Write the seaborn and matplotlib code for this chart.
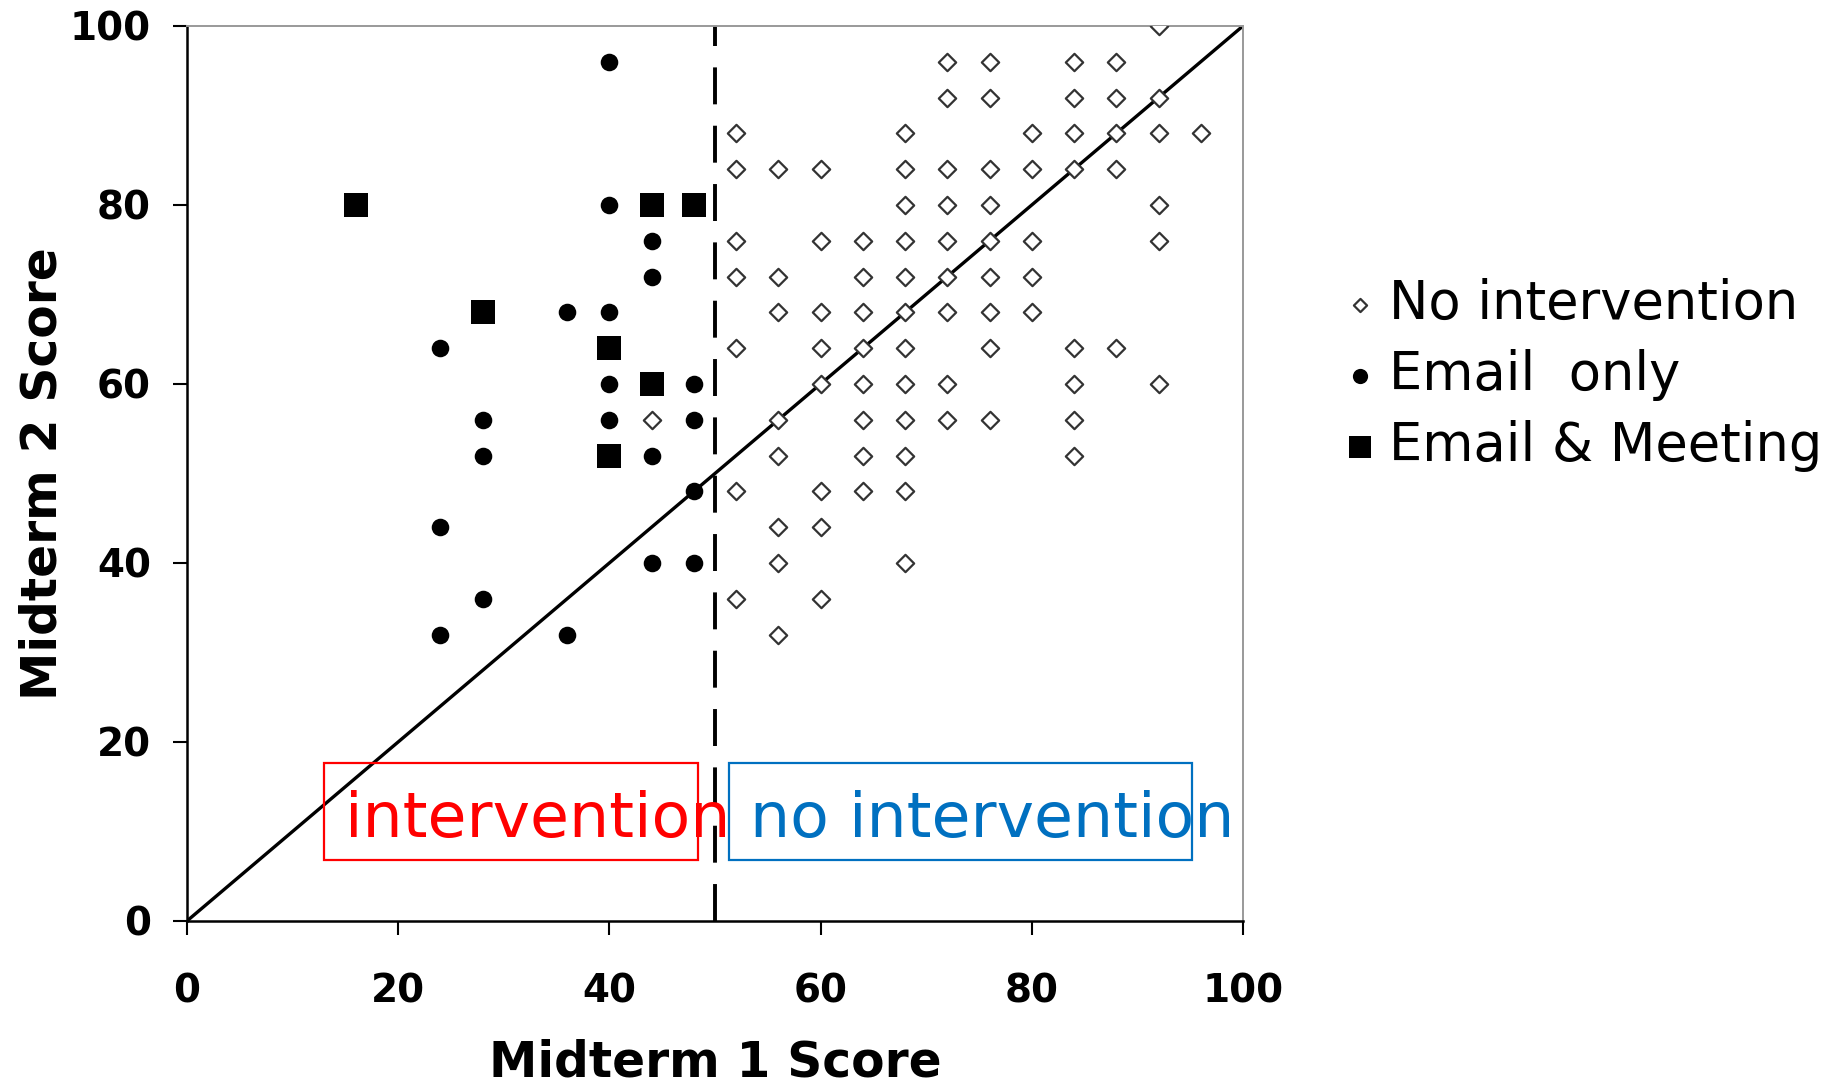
import numpy as np
import pandas as pd
import matplotlib
matplotlib.use("Agg")
import matplotlib.pyplot as plt
from matplotlib.patches import Rectangle
import seaborn as sns

# Midterm scores (Midterm 1 on x, Midterm 2 on y)
no_int_m1 = [92,
             72, 76, 84, 88,
             72, 76, 84, 88, 92,
             52, 68, 80, 84, 88, 92, 96,
             52, 56, 60, 68, 72, 76, 80, 84, 88,
             68, 72, 76, 92,
             52, 60, 64, 68, 72, 76, 80, 92,
             52, 56, 64, 68, 72, 76, 80,
             56, 60, 64, 68, 72, 76, 80,
             52, 60, 64, 68, 76, 84, 88,
             60, 64, 68, 72, 84, 92,
             44, 56, 64, 68, 72, 76, 84,
             56, 64, 68, 84,
             52, 60, 64, 68,
             56, 60,
             56, 68,
             52, 60,
             56]
no_int_m2 = [100,
             96, 96, 96, 96,
             92, 92, 92, 92, 92,
             88, 88, 88, 88, 88, 88, 88,
             84, 84, 84, 84, 84, 84, 84, 84, 84,
             80, 80, 80, 80,
             76, 76, 76, 76, 76, 76, 76, 76,
             72, 72, 72, 72, 72, 72, 72,
             68, 68, 68, 68, 68, 68, 68,
             64, 64, 64, 64, 64, 64, 64,
             60, 60, 60, 60, 60, 60,
             56, 56, 56, 56, 56, 56, 56,
             52, 52, 52, 52,
             48, 48, 48, 48,
             44, 44,
             40, 40,
             36, 36,
             32]

email_m1 = [40, 40, 44, 44, 36, 40, 24, 40, 48, 28, 40, 48, 28, 44,
            48, 24, 44, 48, 28, 24, 36]
email_m2 = [96, 80, 76, 72, 68, 68, 64, 60, 60, 56, 56, 56, 52, 52,
            48, 44, 40, 40, 36, 32, 32]

meeting_m1 = [16, 44, 48, 28, 40, 44, 40]
meeting_m2 = [80, 80, 80, 68, 64, 60, 52]

group_labels = ["No intervention", "Email  only", "Email & Meeting"]
score_range = [0, 100]
cutoff = 50

sns.set_style("ticks")
plt.rcParams["font.family"] = ["DejaVu Sans"]
plt.rcParams["text.color"] = "black"
plt.rcParams["axes.labelcolor"] = "black"
plt.rcParams["xtick.color"] = "black"
plt.rcParams["ytick.color"] = "black"

fig = plt.figure(figsize=(18.35, 10.85), dpi=100)
ax = fig.add_axes([0.1019, 0.1512, 0.5755, 0.8249])

# reference lines: diagonal (no change) and the intervention cutoff
ax.plot(score_range, score_range, color="black", lw=2.4, zorder=1)
ax.axvline(cutoff, color="black", lw=2.8, linestyle=(0, (9.5, 5.5)), zorder=1)

sns.scatterplot(x=no_int_m1, y=no_int_m2, marker="D", s=78, facecolor="white",
                edgecolor="#333333", linewidth=1.6, label=group_labels[0], ax=ax, zorder=3)
sns.scatterplot(x=email_m1, y=email_m2, marker="o", s=160, color="black",
                edgecolor="black", linewidth=0, label=group_labels[1], ax=ax, zorder=3)
sns.scatterplot(x=meeting_m1, y=meeting_m2, marker="s", s=290, color="black",
                edgecolor="black", linewidth=0, label=group_labels[2], ax=ax, zorder=3)

ax.set_xlim(score_range)
ax.set_ylim(score_range)
ax.set_xticks(np.arange(0, 101, 20))
ax.set_yticks(np.arange(0, 101, 20))
ax.tick_params(axis="both", direction="out", length=10, width=1.5, labelsize=28)
ax.tick_params(axis="x", pad=27)
ax.tick_params(axis="y", pad=16)
for lbl in ax.get_xticklabels() + ax.get_yticklabels():
    lbl.set_fontweight("bold")

for side in ["left", "bottom"]:
    ax.spines[side].set_color("black")
    ax.spines[side].set_linewidth(1.8)
for side in ["top", "right"]:
    ax.spines[side].set_visible(True)
    ax.spines[side].set_color("#999999")
    ax.spines[side].set_linewidth(1.4)

ax.set_xlabel("Midterm 1 Score", fontsize=35, fontweight="bold", labelpad=20)
ax.set_ylabel("Midterm 2 Score", fontsize=35, fontweight="bold", labelpad=2)

# region annotations
ax.add_patch(Rectangle((13.0, 6.8), 35.4, 10.8, fill=False, edgecolor="#ff0000",
                       lw=1.6, zorder=4))
ax.text(15.0, 9.4, "intervention", color="#ff0000", fontsize=45.5,
        ha="left", va="baseline", zorder=5)
ax.add_patch(Rectangle((51.3, 6.8), 43.9, 10.8, fill=False, edgecolor="#0070c0",
                       lw=1.6, zorder=4))
ax.text(53.3, 9.4, "no intervention", color="#0070c0", fontsize=45.5,
        ha="left", va="baseline", zorder=5)

leg = ax.legend(loc="upper left", bbox_to_anchor=(0.734, 0.744),
                bbox_transform=fig.transFigure, frameon=False, fontsize=38,
                handlelength=0.5, handletextpad=0.3, labelspacing=0.36,
                borderpad=0, borderaxespad=0)
sizes = [45, 120, 230]
for h, s in zip(leg.legend_handles, sizes):
    h.set_sizes([s])
for t in leg.get_texts():
    t.set_color("black")

fig.savefig("out.png", dpi=100)
